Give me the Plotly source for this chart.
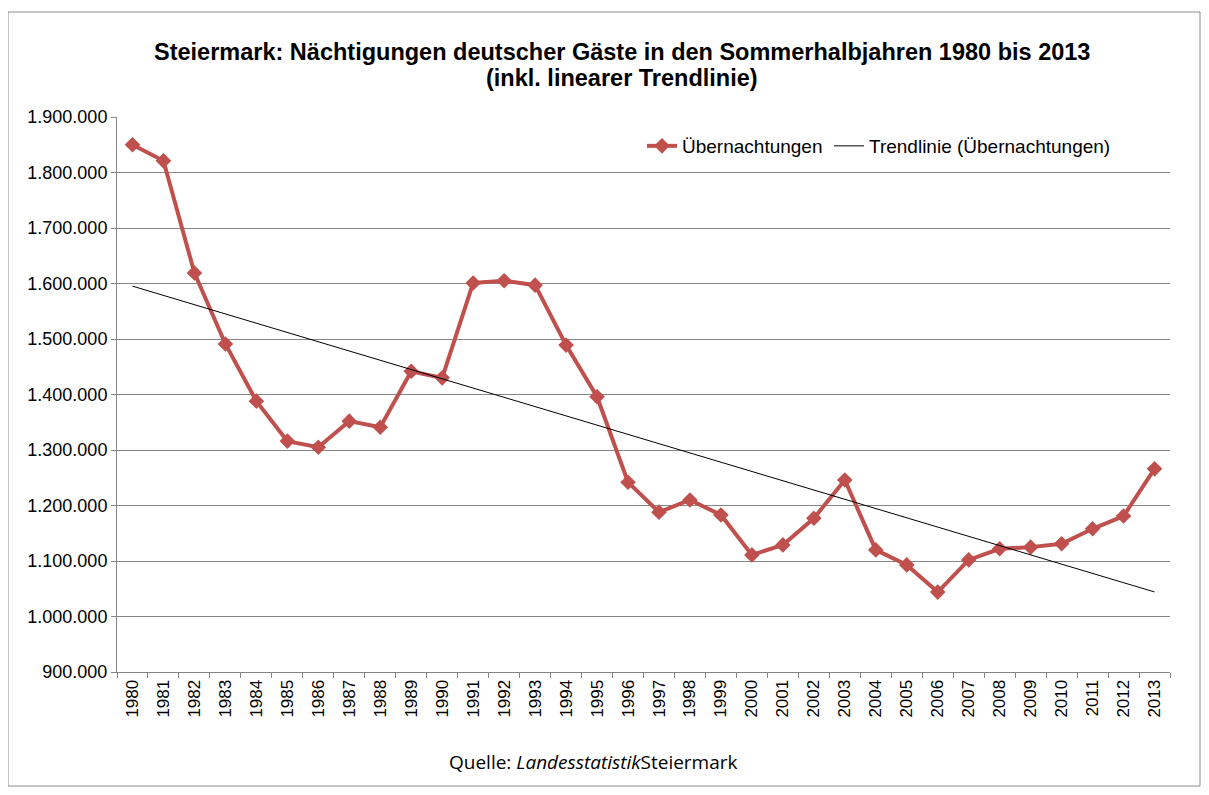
import numpy as np
import plotly.graph_objects as go

years = [str(y) for y in range(1980, 2014)]
naechtigungen = [1850000, 1821000, 1619000, 1491000, 1388000, 1316000, 1305000, 1352000,
                 1341000, 1442000, 1430000, 1601000, 1605000, 1597000, 1489000, 1396000,
                 1242000, 1188000, 1210000, 1183000, 1111000, 1129000, 1177000, 1246000,
                 1120000, 1093000, 1044000, 1102000, 1122000, 1125000, 1131000, 1158000,
                 1181000, 1266000]
y_ticks = list(range(900000, 1900001, 100000))

# linear trend line (least squares over the series, as in Excel)
idx = np.arange(len(naechtigungen))
slope, intercept = np.polyfit(idx, naechtigungen, 1)
trend = (slope * idx + intercept).tolist()

OFF = 8  # page body margin
W, H = 1209 - 2 * OFF, 795 - 2 * OFF
# plot area in page pixels: x 117..1170, y 117..672
PL, PR, PT, PB = 117, 1170, 117, 672
L, T = PL - OFF, PT - OFF
R = W - (PR - OFF)
B = H - (PB - OFF)
pw, ph = PR - PL, PB - PT

def px(x):
    return (x - PL) / pw

def py(y):
    return (PB - y) / ph

fig = go.Figure()
fig.add_trace(go.Scatter(
    x=years, y=naechtigungen, name="Übernachtungen", mode="lines+markers",
    line=dict(color="#C0504D", width=4),
    marker=dict(symbol="diamond", size=12, color="#C0504D"),
    legend="legend",
))
fig.add_trace(go.Scatter(
    x=years, y=trend, name="Trendlinie (Übernachtungen)", mode="lines",
    line=dict(color="#000000", width=1),
    legend="legend2",
))

leg_common = dict(orientation="h", yanchor="middle", xanchor="left",
                  font=dict(size=19), bgcolor="rgba(0,0,0,0)", itemwidth=30)

fig.update_layout(
    width=W, height=H,
    margin=dict(l=L, r=R, t=T, b=B, autoexpand=False),
    paper_bgcolor="white", plot_bgcolor="white",
    separators=",.",
    font=dict(family="Liberation Sans, Arial, sans-serif", color="#000000"),
    showlegend=True,
    legend=dict(x=px(642), y=py(146), **leg_common),
    legend2=dict(x=px(829), y=py(146), **leg_common),
    xaxis=dict(type="category", range=[-0.5, len(years) - 0.5],
               showline=True, linecolor="#868686", linewidth=1,
               ticks="outside", tickson="boundaries", ticklen=5, tickcolor="#868686",
               tickangle=-90, tickfont=dict(size=17), showgrid=False, mirror=False),
    yaxis=dict(range=[900000, 1900000], tickvals=y_ticks, tickformat=",d",
               showline=True, linecolor="#868686", linewidth=1,
               ticks="outside", ticklen=5, tickcolor="#868686",
               showgrid=True, gridcolor="#868686", gridwidth=1,
               tickfont=dict(size=18), zeroline=False),
)

# outer chart frame
fig.add_shape(type="rect", xref="paper", yref="paper",
              x0=px(8), x1=px(1200), y0=py(786), y1=py(12),
              line=dict(color="#8C8C8C", width=1), layer="below")

title_lines = ["Steiermark: Nächtigungen deutscher Gäste in den Sommerhalbjahren 1980 bis 2013",
               "(inkl. linearer Trendlinie)"]
for line_text, ypos in zip(title_lines, [52, 78]):
    fig.add_annotation(
        text="<b>" + line_text + "</b>",
        xref="paper", yref="paper", x=px(622), y=py(ypos), xanchor="center", yanchor="middle",
        showarrow=False, font=dict(size=23.5, family="Liberation Sans, Arial, sans-serif"))

fig.add_annotation(
    text="Quelle: <i>Landesstatistik</i>Steiermark",
    xref="paper", yref="paper", x=px(447), y=py(762), xanchor="left", yanchor="middle",
    showarrow=False, font=dict(size=19, family="Open Sans, sans-serif", color="#000000"))

fig.write_html("out.html")
